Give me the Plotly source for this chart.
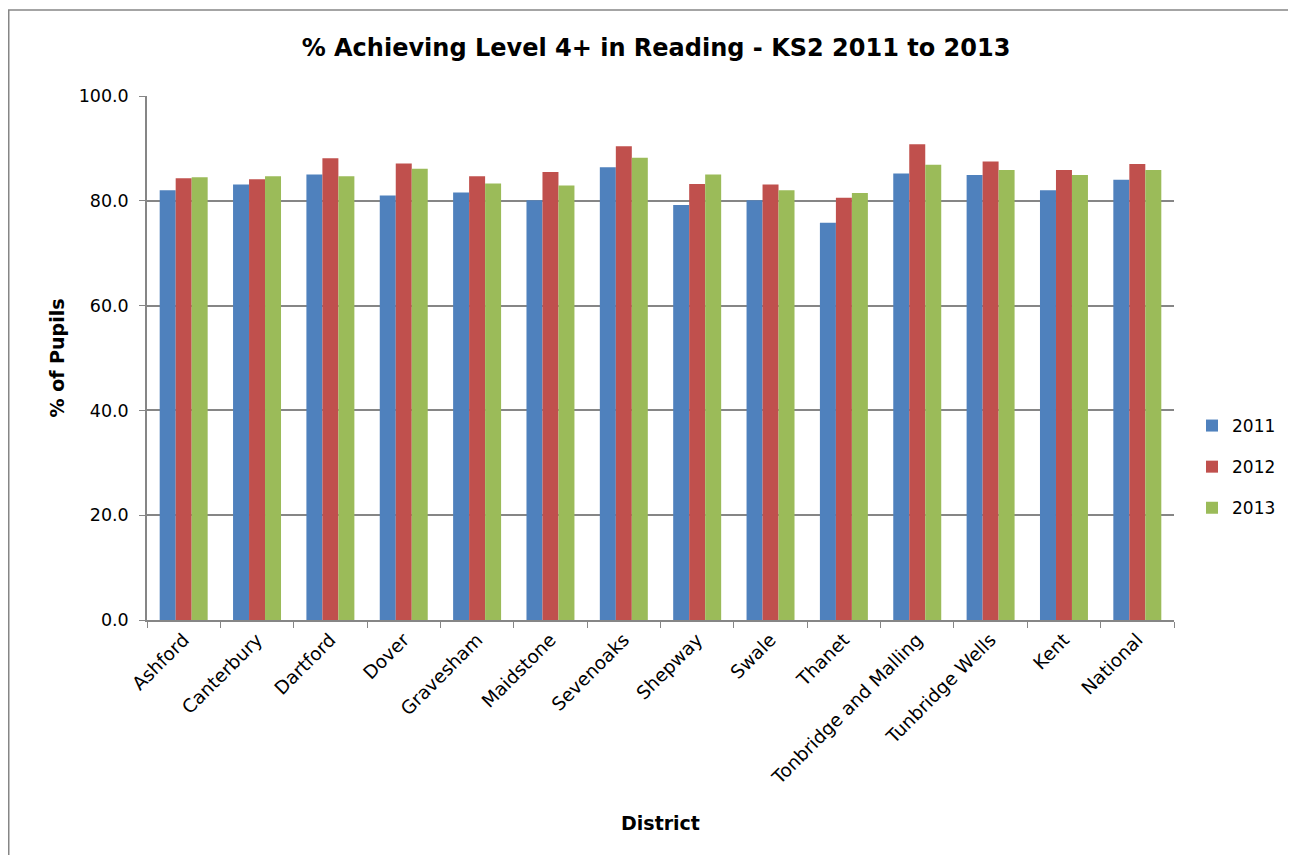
import plotly.graph_objects as go

districts = ["Ashford", "Canterbury", "Dartford", "Dover", "Gravesham", "Maidstone",
             "Sevenoaks", "Shepway", "Swale", "Thanet", "Tonbridge and Malling",
             "Tunbridge Wells", "Kent", "National"]
v2011 = [82.0, 83.1, 85.0, 81.0, 81.6, 80.1, 86.4, 79.2, 80.1, 75.8, 85.2, 84.9, 82.0, 84.0]
v2012 = [84.3, 84.1, 88.1, 87.1, 84.7, 85.5, 90.4, 83.2, 83.1, 80.6, 90.8, 87.5, 85.9, 87.0]
v2013 = [84.5, 84.7, 84.7, 86.1, 83.3, 82.9, 88.2, 85.0, 82.0, 81.5, 86.9, 85.9, 84.9, 85.9]
years = ["2011", "2012", "2013"]
colors = ["#4F81BD", "#C0504D", "#9BBB59"]
tickvals = [0, 20, 40, 60, 80, 100]

W, H = 1280, 847
L, R, T, B = 139, 1166, 88, 612
PW, PH = R - L, B - T


def px(fx):
    return (fx - L) / PW


def py(fy):
    return (B - fy) / PH


font = "Tahoma, Verdana, DejaVu Sans, sans-serif"
fig = go.Figure()
for name, vals, c in zip(years, [v2011, v2012, v2013], colors):
    fig.add_trace(go.Bar(x=districts, y=vals, name=name, legendgroup=name,
                         marker=dict(color=c, line=dict(width=0))))

fig.update_layout(
    width=W, height=H,
    margin=dict(l=L, r=W - R, t=T, b=H - B),
    paper_bgcolor="white", plot_bgcolor="white",
    barmode="group", bargap=0.346, bargroupgap=0,
    font=dict(family=font, size=17, color="black"),
    title=dict(text="<b>% Achieving Level 4+ in Reading - KS2 2011 to 2013</b>",
               x=648 / W, xanchor="center", y=1 - 40 / H, yanchor="middle",
               font=dict(size=24, family=font)),
    legend=dict(xref="container", yref="container",
                x=1273 / W, y=1 - 459 / H, xanchor="right", yanchor="middle",
                font=dict(size=17), tracegroupgap=16, traceorder="grouped",
                itemwidth=30),
    showlegend=True,
)
fig.update_yaxes(range=[0, 100], tickvals=tickvals, tickformat=".1f",
                 tickfont=dict(size=17.5), ticklabelstandoff=7,
                 showgrid=True, gridcolor="#868686", gridwidth=1.5,
                 showline=True, linecolor="#868686", linewidth=1.5,
                 ticks="outside", ticklen=6, tickcolor="#868686",
                 title=dict(text="<b>% of Pupils</b>", font=dict(size=19), standoff=9),
                 zeroline=False)
fig.update_xaxes(showline=True, linecolor="#868686", linewidth=1.5,
                 ticks="outside", ticklen=6, tickcolor="#868686", tickson="boundaries",
                 tickangle=-45, tickfont=dict(size=18.5),
                 title=dict(text="<b>District</b>", font=dict(size=19), standoff=29))
fig.add_shape(type="rect", xref="paper", yref="paper",
              x0=px(0.75), x1=px(1300), y0=py(870), y1=py(2),
              line=dict(color="#868686", width=1.5), layer="below")
fig.write_html("out.html")
